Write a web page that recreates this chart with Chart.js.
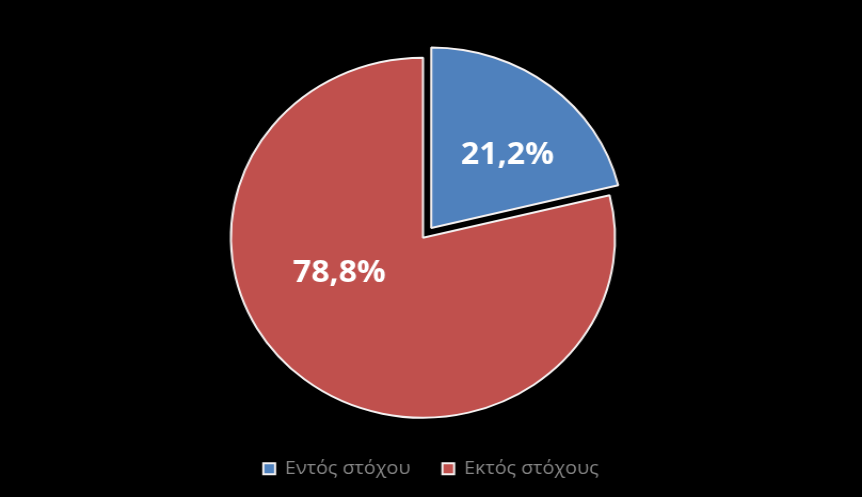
<!DOCTYPE html>
<html>
<head>
<meta charset="utf-8">
<script src="https://cdn.jsdelivr.net/npm/chart.js@4.4.1/dist/chart.umd.min.js"></script>
<style>
  html, body { margin: 0; padding: 0; background: #000; overflow: hidden; }
  /* the source picture is stretched a little wider than tall */
  #wrap { width: 808px; height: 497px; transform: scaleX(1.0668); transform-origin: 0 0; }
</style>
</head>
<body>
<div id="wrap"><canvas id="pie-chart" width="808" height="497"></canvas></div>
<script>
var categories = ['Εντός στόχου', 'Εκτός στόχους'];
var shares = [21.2, 78.8];
var share_labels = ['21,2%', '78,8%'];
var slice_colors = ['#4f81bd', '#c0504d'];

// where the percentage goes inside each slice: angle from 12 o'clock, fraction of radius
var label_place = [{ angle: 43, dist: 0.58 }, { angle: 248, dist: 0.47 }];

// pie sits a little left of the legend centre
var shiftPie = {
  id: 'shiftPie',
  afterLayout: function (chart) {
    chart.chartArea.left -= 7.5;
    chart.chartArea.right -= 7.5;
  }
};

var pieLabels = {
  id: 'pieLabels',
  afterDatasetsDraw: function (chart) {
    var ctx = chart.ctx;
    var meta = chart.getDatasetMeta(0);
    ctx.save();
    ctx.fillStyle = '#ffffff';
    ctx.font = 'bold 30px "Open Sans"';
    ctx.textAlign = 'center';
    ctx.textBaseline = 'middle';
    meta.data.forEach(function (arc, i) {
      var p = arc.getProps(['x', 'y', 'startAngle', 'endAngle', 'outerRadius', 'circumference'], true);
      var mid = (p.startAngle + p.endAngle) / 2;
      // same shift the arc element applies when it draws an offset slice
      var o = (arc.options.offset || 0) / 4;
      var off = o + o * (1 - Math.sin(Math.min(Math.PI, p.circumference)));
      var cx = p.x + Math.cos(mid) * off;
      var cy = p.y + Math.sin(mid) * off;
      var a = (label_place[i].angle - 90) * Math.PI / 180;
      var r = p.outerRadius * label_place[i].dist;
      // +4: Open Sans sits a bit high on a 'middle' baseline
      ctx.fillText(share_labels[i], cx + Math.cos(a) * r, cy + Math.sin(a) * r + 4);
    });
    ctx.restore();
  }
};

var pie_chart = new Chart(document.getElementById('pie-chart'), {
  type: 'pie',
  data: {
    labels: categories,
    datasets: [{
      data: shares,
      backgroundColor: slice_colors,
      borderColor: '#f4f0f0',
      borderWidth: 2,
      offset: [50, 0]
    }]
  },
  options: {
    responsive: false,
    devicePixelRatio: 1,
    animation: false,
    radius: 180,
    layout: { padding: { top: 46, bottom: 9, left: 0, right: 0 } },
    plugins: {
      tooltip: { enabled: false },
      legend: {
        position: 'bottom',
        labels: {
          color: '#858585',
          font: { family: '"Open Sans"', size: 18.5 },
          boxWidth: 11,
          boxHeight: 11,
          padding: 30
        }
      }
    }
  },
  plugins: [shiftPie, pieLabels]
});
</script>
</body>
</html>
